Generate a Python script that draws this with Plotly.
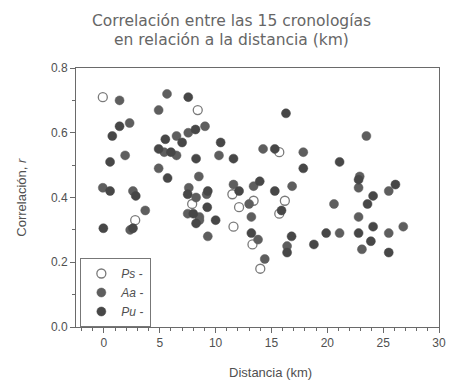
import plotly.graph_objects as go

# Ps (open circles)
ps_x = [-0.1, 8.4, 15.7, 11.5, 7.9, 13.4, 16.2, 12.1, 15.7, 2.8, 11.6, 13.3, 14.0]
ps_y = [0.71, 0.67, 0.54, 0.41, 0.38, 0.39, 0.39, 0.37, 0.35, 0.33, 0.31, 0.255, 0.18]

# Aa (filled, medium grey)
aa_x = [1.4, 2.3, 1.9, -0.1, 2.6, 3.7, 2.35, 5.65, 4.9, 6.5, 7.55, 9.05, 5.4, 6.5, 4.9,
        8.5, 10.3, 7.6, 8.25, 9.2, 7.5, 8.55, 8.55, 9.3, 14.25, 17.85, 11.6, 13.4, 16.85,
        13.0, 13.2, 13.8, 16.4, 14.4, 23.5, 22.9, 22.8, 25.5, 20.6, 22.8, 26.8, 21.1,
        25.5, 23.1]
aa_y = [0.70, 0.63, 0.53, 0.43, 0.42, 0.36, 0.30, 0.72, 0.67, 0.59, 0.60, 0.62, 0.54, 0.53, 0.49,
        0.465, 0.53, 0.43, 0.40, 0.41, 0.35, 0.34, 0.33, 0.28, 0.55, 0.54, 0.44, 0.435, 0.435,
        0.38, 0.34, 0.27, 0.25, 0.21, 0.59, 0.465, 0.43, 0.42, 0.38, 0.34, 0.31, 0.29,
        0.29, 0.24]

# Pu (filled, dark grey)
pu_x = [1.4, 0.75, 0.55, 0.55, 2.85, -0.05, 2.6, 7.55, 5.5, 7.0, 8.2, 4.9, 6.0, 8.25, 5.7,
        10.45, 11.6, 7.5, 9.3, 9.25, 8.0, 8.25, 10.0, 16.3, 15.3, 17.85, 12.1, 13.95, 15.3,
        15.9, 13.2, 16.8, 16.4, 18.8, 21.1, 22.8, 26.1, 24.1, 23.6, 24.1, 19.9, 22.8,
        23.9, 25.5]
pu_y = [0.62, 0.59, 0.51, 0.42, 0.405, 0.305, 0.305, 0.71, 0.58, 0.57, 0.61, 0.55, 0.54, 0.52, 0.46,
        0.57, 0.52, 0.41, 0.42, 0.37, 0.35, 0.32, 0.33, 0.66, 0.55, 0.49, 0.42, 0.45, 0.42,
        0.36, 0.29, 0.28, 0.23, 0.255, 0.51, 0.455, 0.44, 0.405, 0.38, 0.31, 0.29, 0.29,
        0.265, 0.23]

title_lines = ["Correlación entre las 15 cronologías", "en relación a la distancia (km)"]

FONT = "Liberation Sans"
GREY = "#505050"

fig = go.Figure()
fig.add_trace(go.Scatter(x=ps_x, y=ps_y, mode="markers", name="<i>Ps</i> -",
                         marker=dict(size=9, color="white", line=dict(color="#7a7a7a", width=1.3))))
fig.add_trace(go.Scatter(x=aa_x, y=aa_y, mode="markers", name="<i>Aa</i> -",
                         marker=dict(size=9, color="#5e5e5e", line=dict(color="#5e5e5e", width=0.5))))
fig.add_trace(go.Scatter(x=pu_x, y=pu_y, mode="markers", name="<i>Pu</i> -",
                         marker=dict(size=9, color="#474747", line=dict(color="#474747", width=0.5))))

fig.update_layout(
    width=453, height=380,
    margin=dict(l=76, r=7, t=68, b=53),
    paper_bgcolor="white", plot_bgcolor="white",
    font=dict(family=FONT, size=12, color=GREY),
    showlegend=True,
    legend=dict(x=0.012, y=0, xanchor="left", yanchor="bottom",
                bordercolor="#777777", borderwidth=1, bgcolor="white",
                font=dict(family=FONT, size=12, color=GREY),
                tracegroupgap=0, itemwidth=30),
    annotations=[
        dict(text=title_lines[0], xref="paper", yref="paper", x=0.427, y=1.181,
             xanchor="center", yanchor="middle", showarrow=False,
             font=dict(family="DejaVu Sans", size=15.5, color="#666666")),
        dict(text=title_lines[1], xref="paper", yref="paper", x=0.427, y=1.110,
             xanchor="center", yanchor="middle", showarrow=False,
             font=dict(family="DejaVu Sans", size=15.5, color="#666666")),
        dict(text="Distancia (km)", xref="paper", yref="paper", x=0.535, y=-0.174,
             xanchor="center", yanchor="middle", showarrow=False,
             font=dict(family=FONT, size=13, color=GREY)),
        dict(text="Correlación, <i>r</i>", xref="paper", yref="paper", x=-0.151, y=0.5,
             xanchor="center", yanchor="middle", textangle=-90, showarrow=False,
             font=dict(family=FONT, size=13, color=GREY)),
    ],
)

fig.update_xaxes(range=[-2.5, 30], tick0=0, dtick=5, showgrid=False, zeroline=False,
                 showline=True, linecolor="#6a6a6a", linewidth=1, mirror=True,
                 ticks="outside", ticklen=5, tickcolor="#6a6a6a",
                 minor=dict(dtick=1, ticks="outside", ticklen=3, tickcolor="#6a6a6a"),
                 tickfont=dict(family=FONT, size=12, color=GREY))
fig.update_yaxes(range=[0, 0.8], tick0=0, dtick=0.2, tickformat=".1f", showgrid=False,
                 zeroline=False, showline=True, linecolor="#6a6a6a", linewidth=1, mirror=True,
                 ticks="outside", ticklen=5, tickcolor="#6a6a6a",
                 minor=dict(dtick=0.1, ticks="outside", ticklen=3, tickcolor="#6a6a6a"),
                 tickfont=dict(family=FONT, size=12, color=GREY))

fig.write_html("out.html")
